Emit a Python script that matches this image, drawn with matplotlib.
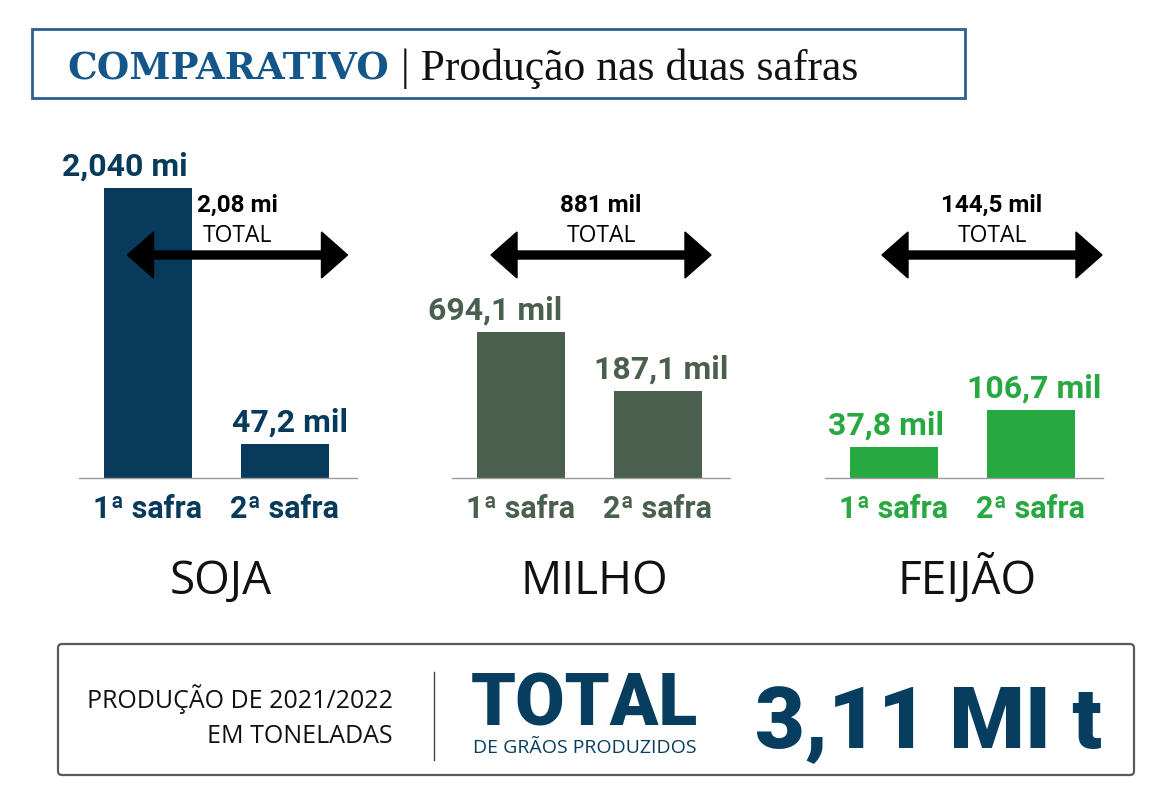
import matplotlib
matplotlib.use("Agg")
import matplotlib.pyplot as plt
from matplotlib.patches import Rectangle, FancyBboxPatch, Polygon

# data
culturas = ['SOJA', 'MILHO', 'FEIJÃO']
safras = ['1ª safra', '2ª safra']
rotulos = [['2,040 mi', '47,2 mil'],
           ['694,1 mil', '187,1 mil'],
           ['37,8 mil', '106,7 mil']]
totais = ['2,08 mi', '881 mil', '144,5 mil']
# bar heights as drawn in the infographic (not to scale)
alturas = [[290, 34],
           [146, 87],
           [31, 68]]
total_geral = '3,11 MI t'

# layout (pixels, figure is 1164x811)
W, H = 1164, 811
BASE = 478
x0, passo_grupo, passo_barra, larg = 147.5, 373, 137, 88
cores = ['#073a5b', '#4a5f4e', '#27a840']
dx_rotulo = [[-23, 6], [-25, 4], [-7, 4]]
seta_cx = [237.5, 601, 992]
AZUL = '#073d5f'

fig = plt.figure(figsize=(W / 100, H / 100), dpi=100)
ax = fig.add_axes([0, 0, 1, 1])
ax.set_xlim(0, W)
ax.set_ylim(H, 0)
ax.axis('off')

# title box
ax.add_patch(Rectangle((32, 29), 933, 69, fill=False, edgecolor='#2c5f8c', linewidth=2))
ax.text(67, 80, 'COMPARATIVO', family='DejaVu Serif', weight='bold', fontsize=26.8,
        color='#15568a', va='baseline', ha='left')
ax.text(401, 80, '| Produção nas duas safras', family='Liberation Serif', fontsize=31.5,
        color='#111111', va='baseline', ha='left')

for g, nome in enumerate(culturas):
    xs = [x0 + g * passo_grupo + i * passo_barra for i in range(2)]
    hs = alturas[g]
    ax.bar(xs, hs, width=larg, bottom=[BASE - h for h in hs], color=cores[g])
    ax.plot([xs[0] - 69, xs[1] + 72], [BASE, BASE], color='#9a9a9a', lw=1)

    for i in range(2):
        ax.text(xs[i] + dx_rotulo[g][i], BASE - hs[i] - 12, rotulos[g][i],
                family='Roboto', weight='bold', fontsize=23, color=cores[g],
                ha='center', va='baseline')
        ax.text(xs[i], 518, safras[i], family='Roboto', weight='bold', fontsize=22,
                color=cores[g], ha='center', va='baseline')

    gc = (xs[0] + xs[1]) / 2
    ax.text(gc + 5, 594, nome, family='Open Sans', fontsize=33, color='#111111',
            ha='center', va='baseline')

    # double arrow
    cx, cy, L, hl, hw, t = seta_cx[g], 255, 110, 26, 23, 4
    pts = [(cx - L, cy), (cx - L + hl, cy - hw), (cx - L + hl, cy - t),
           (cx + L - hl, cy - t), (cx + L - hl, cy - hw), (cx + L, cy),
           (cx + L - hl, cy + hw), (cx + L - hl, cy + t), (cx - L + hl, cy + t),
           (cx - L + hl, cy + hw)]
    ax.add_patch(Polygon(pts, closed=True, color='black'))
    ax.text(cx, 212, totais[g], family='Roboto', weight='bold', fontsize=17.5,
            color='black', ha='center', va='baseline')
    ax.text(cx, 242, 'TOTAL', family='Open Sans', fontsize=16.5,
            color='black', ha='center', va='baseline')

# bottom box
ax.add_patch(FancyBboxPatch((58, 644), 1076, 131, boxstyle='round,pad=0,rounding_size=4',
                            fill=False, edgecolor='#5a5a5a', linewidth=1.6))
ax.text(393, 708, 'PRODUÇÃO DE 2021/2022', family='Open Sans', fontsize=18,
        color='#111111', ha='right', va='baseline')
ax.text(393, 743, 'EM TONELADAS', family='Open Sans', fontsize=18,
        color='#111111', ha='right', va='baseline')
ax.plot([434, 434], [672, 760], color='#444444', lw=1)
ax.text(471, 725, 'TOTAL', family='Roboto', weight='black', fontsize=51.5,
        color=AZUL, ha='left', va='baseline')
ax.text(473, 753, 'DE GRÃOS PRODUZIDOS', family='Open Sans', fontsize=14,
        color=AZUL, ha='left', va='baseline')
ax.text(1102, 748, total_geral, family='Roboto', weight='black', fontsize=62,
        color=AZUL, ha='right', va='baseline')

fig.savefig('out.png', dpi=100, facecolor='white')
